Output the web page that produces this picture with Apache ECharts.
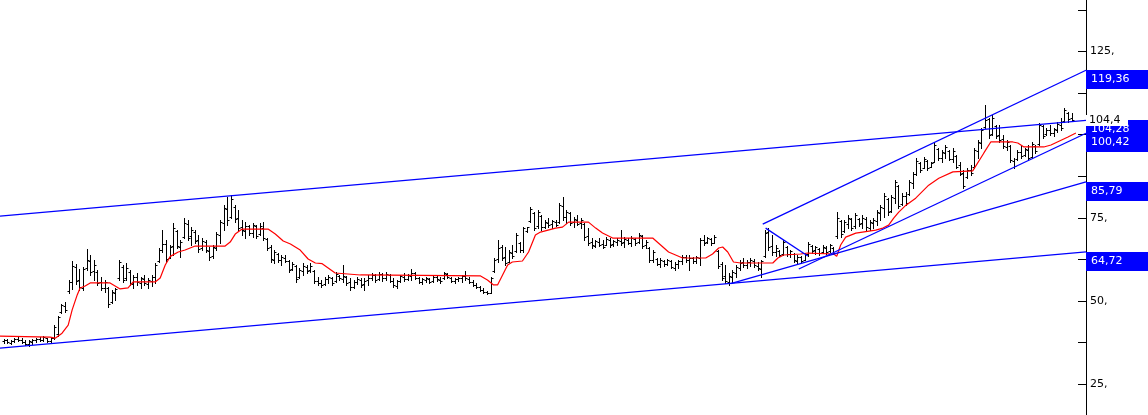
<!DOCTYPE html>
<html>
<head>
<meta charset="utf-8">
<script src="https://cdn.jsdelivr.net/npm/echarts@6/dist/echarts.min.js"></script>
<style>
html,body{margin:0;padding:0;background:#fff;}
#chart{width:1148px;height:415px;}
</style>
</head>
<body>
<div id="chart"></div>
<script>
// bar values, one per period (index = position on the x axis)
var opens = [
	37.8,38.1,37.4,37.9,38.5,38.3,37.5,36.9,37.7,38.2,
	38.6,38.3,38.8,37.9,38.8,40.1,46.8,48.5,52.9,55.6,
	60.2,56.4,54.0,59.9,62.0,58.9,58.6,55.6,53.9,53.8,
	49.7,52.4,57.0,60.3,56.8,58.7,55.2,57.3,55.4,56.6,
	55.0,56.0,57.1,62.0,65.3,67.2,63.0,66.5,71.0,66.2,
	69.3,73.2,69.5,70.8,68.3,65.8,67.6,65.0,63.4,66.0,
	69.8,73.4,77.5,75.3,78.2,74.8,72.3,71.0,72.4,70.5,
	72.5,70.0,72.0,68.6,66.2,62.4,64.1,62.4,63.0,62.0,
	59.6,60.4,57.2,59.0,60.2,59.2,59.0,56.1,55.3,55.0,
	56.5,56.9,55.9,57.6,56.5,57.1,55.6,54.3,55.6,56.3,
	55.0,56.2,56.8,57.7,56.5,58.0,57.0,57.9,56.1,54.5,
	56.0,57.3,56.7,57.6,58.3,56.8,55.7,56.3,56.7,56.0,
	57.3,56.4,56.9,58.1,57.0,56.0,56.6,56.8,57.5,56.7,
	55.6,54.9,54.2,53.4,52.7,52.5,59.0,62.5,66.2,63.1,
	61.8,64.5,65.0,67.4,65.4,71.0,74.0,76.4,72.4,75.4,
	72.2,73.5,73.0,73.7,73.6,78.5,75.3,76.4,73.6,74.4,
	73.4,73.0,69.6,67.8,66.6,67.7,67.1,66.9,68.3,67.0,
	67.6,68.0,67.6,68.4,67.3,68.6,67.6,69.4,66.8,65.8,
	62.3,62.6,61.0,62.0,61.1,62.0,60.0,61.1,61.9,63.1,
	62.4,62.9,62.1,63.0,68.2,67.6,68.6,67.5,65.0,61.2,
	57.5,55.8,57.3,58.5,60.0,61.6,60.7,61.7,62.1,60.6,
	59.7,63.6,70.7,66.5,64.7,65.0,64.1,66.2,64.1,64.2,
	62.0,63.1,62.4,64.1,66.6,65.2,65.7,64.6,66.0,65.0,
	66.0,69.5,74.0,71.0,73.2,74.6,72.5,74.6,73.3,74.5,
	72.0,73.3,74.0,76.5,77.8,80.5,77.0,80.8,84.5,79.0,
	81.5,82.2,85.6,88.2,91.4,90.1,92.0,90.4,91.9,95.7,
	93.0,94.6,95.1,92.7,93.6,90.8,88.5,87.2,89.3,90.3,
	95.0,97.5,102.4,104.6,100.3,102.6,99.8,98.6,96.3,96.5,
	92.1,92.6,94.7,93.9,95.4,93.4,96.6,97.3,102.5,100.2,
	101.3,100.5,101.4,103.0,104.2,106.4,104.9
];
var highs = [
	38.6,38.4,38.2,38.9,39.3,38.8,38.3,38.1,38.6,38.9,
	39.0,39.4,38.9,39.0,42.8,45.4,49.2,49.7,56.3,62.0,
	61.0,59.5,60.2,65.6,63.8,62.3,59.3,57.2,56.3,54.2,
	53.3,53.9,62.3,60.8,61.4,59.3,57.8,58.4,57.2,57.8,
	56.9,57.8,61.4,65.9,71.3,68.3,66.8,73.4,71.3,68.3,
	74.9,74.3,72.2,71.3,69.8,68.9,68.3,66.2,66.8,70.7,
	74.3,78.8,81.2,81.8,78.8,77.3,74.3,73.7,72.8,73.4,
	72.8,73.4,73.7,68.9,66.8,65.3,64.4,63.8,63.8,62.3,
	61.7,60.8,59.9,61.4,60.8,61.4,59.3,57.2,56.3,57.2,
	57.8,57.2,58.7,57.8,60.8,57.5,56.9,56.3,57.2,56.9,
	56.9,57.8,58.4,58.1,58.7,58.4,58.7,58.1,56.9,56.3,
	57.8,58.4,58.1,59.6,58.7,57.2,56.9,57.2,56.9,57.5,
	57.8,57.2,58.7,58.4,57.2,56.9,57.2,57.8,59.0,57.2,
	56.3,55.4,54.5,53.9,53.0,57.2,62.9,68.3,66.8,66.2,
	65.3,66.8,70.4,67.7,72.2,72.2,78.2,76.7,77.3,75.8,
	74.3,74.9,74.3,74.3,79.4,81.2,77.3,76.7,75.2,75.8,
	74.9,73.4,71.9,68.9,68.3,68.9,68.3,69.2,68.9,68.3,
	68.9,71.3,69.2,68.9,69.5,68.9,70.4,69.8,68.3,66.2,
	65.3,62.9,62.9,62.3,62.6,62.3,61.7,62.3,63.8,63.8,
	63.8,63.2,63.5,68.9,69.8,69.2,68.9,69.8,65.3,61.7,
	60.8,58.4,59.3,60.8,62.3,62.9,62.3,62.9,62.6,61.7,
	62.3,71.3,71.9,69.8,66.8,65.3,68.3,66.5,65.3,64.4,
	63.8,63.5,64.4,67.7,66.8,66.5,65.9,66.8,66.5,67.1,
	66.2,76.7,74.3,74.3,75.8,74.9,76.4,74.9,75.8,75.2,
	74.3,74.9,77.3,78.8,82.4,80.9,81.8,86.4,84.8,82.4,
	82.7,86.4,88.8,92.9,91.7,93.3,92.3,91.7,97.8,96.0,
	95.4,96.9,95.4,96.0,93.9,91.7,89.3,90.0,90.9,96.0,
	98.4,102.0,108.9,104.9,105.8,102.9,102.9,99.9,98.4,96.9,
	92.9,95.4,96.9,96.0,96.9,97.8,96.9,103.5,102.9,102.0,
	102.9,102.0,103.8,105.0,108.0,106.8,106.5
];
var lows = [
	37.4,37.2,36.9,37.6,37.9,37.3,36.6,36.5,37.0,37.6,
	37.8,37.9,37.5,37.3,38.4,39.5,46.4,46.7,52.5,53.5,
	55.0,53.3,53.3,59.3,57.8,56.3,54.8,53.3,52.7,48.2,
	49.4,50.3,56.3,55.7,56.3,54.8,53.9,54.8,53.9,54.8,
	53.9,54.5,55.4,61.7,64.7,61.7,62.9,63.8,65.9,63.2,
	68.9,68.3,66.8,67.4,64.7,65.3,64.7,62.3,62.9,65.3,
	67.4,71.3,72.8,74.9,73.7,71.3,69.8,68.9,69.8,69.2,
	68.9,69.8,68.3,65.3,61.7,61.4,61.7,60.8,61.7,58.7,
	59.3,55.7,56.9,57.8,58.4,58.7,55.4,54.8,54.2,54.8,
	55.4,54.8,55.7,56.3,55.7,54.8,53.3,53.9,55.1,54.2,
	53.3,54.8,56.3,55.7,56.3,56.0,56.3,55.7,54.2,53.9,
	55.7,56.0,56.3,56.3,56.6,55.4,55.1,55.7,55.4,55.7,
	56.0,55.4,56.6,56.9,55.7,55.4,56.0,55.7,56.3,55.4,
	54.5,53.9,53.0,52.4,52.1,52.4,58.7,61.7,62.3,60.8,
	61.7,62.9,64.7,64.7,64.7,70.7,73.7,71.3,71.9,71.3,
	71.9,72.2,71.9,72.5,73.4,74.3,73.4,72.8,72.2,72.8,
	71.9,68.3,66.8,65.9,66.2,66.5,65.9,66.8,66.2,66.5,
	66.8,66.8,66.2,67.1,66.5,66.8,67.4,65.9,65.9,61.7,
	61.7,60.8,60.2,60.5,60.8,59.9,59.3,59.9,61.1,61.7,
	59.3,61.4,61.4,60.8,66.8,67.4,66.8,67.4,59.9,56.3,
	55.4,54.8,55.7,57.2,59.3,60.2,59.9,60.5,60.2,59.3,
	57.2,63.2,65.3,63.8,63.5,63.5,63.8,63.5,63.2,61.7,
	61.4,61.4,62.3,63.5,64.4,64.1,63.8,64.4,64.1,64.7,
	64.1,68.9,69.2,70.7,71.9,71.3,71.9,72.5,71.9,71.3,
	71.3,71.9,72.8,74.3,75.2,75.8,76.7,79.4,77.9,78.8,
	78.8,81.8,84.0,87.8,88.8,89.9,89.3,90.2,91.7,92.3,
	91.7,93.0,92.3,91.7,89.9,87.8,83.9,86.9,87.8,89.9,
	93.0,96.0,102.0,99.0,99.9,99.0,97.8,96.0,95.4,91.7,
	89.9,92.4,93.0,93.6,92.4,93.0,94.5,96.9,98.9,99.9,
	99.9,99.6,100.8,101.4,103.8,103.8,104.4
];
var closes = [
	38.2,37.5,37.9,38.6,38.2,37.6,36.9,37.8,38.3,38.6,
	38.1,39.0,37.9,38.7,42.2,45.2,48.9,47.3,55.8,60.5,
	56.1,54.2,59.6,62.4,58.6,60.7,55.3,54.0,55.7,49.0,
	52.6,53.5,61.6,56.4,59.9,55.5,57.1,55.6,56.8,55.3,
	56.2,57.3,60.9,65.4,67.0,62.5,66.1,71.8,66.6,67.8,
	73.5,69.0,71.4,68.0,65.5,68.0,65.3,63.1,66.2,70.1,
	73.6,77.9,74.2,80.6,74.5,72.0,71.2,72.6,70.3,72.7,
	69.6,72.4,68.9,66.0,62.5,64.6,62.2,63.1,62.1,59.3,
	61.0,56.6,59.3,60.6,59.0,60.4,56.0,55.5,54.8,56.6,
	57.1,55.4,58.0,56.8,57.5,55.3,54.1,55.8,56.5,54.8,
	56.1,57.0,57.9,56.3,58.2,56.8,58.1,56.0,54.7,55.9,
	57.4,56.6,57.8,58.5,56.9,55.8,56.5,56.9,55.8,57.2,
	56.5,55.9,58.3,57.3,56.0,56.5,56.9,57.4,56.8,55.7,
	54.8,54.2,53.3,52.8,52.4,57.0,62.3,66.0,63.0,61.5,
	64.6,63.4,69.7,65.2,71.8,72.1,77.6,72.0,76.8,72.3,
	73.8,72.8,73.9,72.9,78.8,75.1,76.7,73.5,74.6,73.2,
	74.3,69.2,67.5,66.8,67.9,66.9,66.3,68.6,66.7,67.9,
	68.4,67.4,68.5,67.5,68.9,67.3,69.8,66.4,67.7,62.4,
	64.7,61.2,62.3,61.0,62.2,60.3,61.2,62.0,63.3,62.2,
	63.0,61.9,63.1,68.3,67.4,68.8,67.3,69.2,60.4,57.0,
	56.0,57.6,58.7,60.2,61.5,60.9,61.8,62.3,60.8,59.9,
	61.9,70.5,66.3,64.6,65.9,63.9,67.6,64.0,64.9,62.2,
	63.3,61.9,64.0,67.0,65.0,66.1,64.4,66.3,64.8,66.7,
	64.5,74.8,70.1,73.6,74.9,72.0,75.8,73.0,74.8,72.2,
	73.6,74.4,76.8,78.2,81.5,76.6,81.2,85.7,78.6,81.7,
	79.4,85.8,88.3,92.2,89.3,92.7,89.9,91.4,97.0,92.9,
	94.8,96.3,92.8,95.2,90.4,88.3,84.6,89.4,88.4,95.4,
	97.7,101.3,104.5,99.8,104.9,99.6,98.4,96.5,97.9,92.3,
	90.6,94.9,93.6,95.6,93.1,97.1,95.0,102.8,99.5,101.5,
	100.4,101.7,103.2,102.0,107.3,104.6,104.4
];

// red average line, [bar, value]
var avgLine = [
	[-1,39.4],[12.9,39.1],[14.3,38.8],[16.2,40.3],[17.9,42.7],[19.0,47.3],[20.4,51.8],[21.2,53.9],
	[22.6,54.5],[24.0,55.4],[29.5,55.4],[30.9,54.5],[32.3,53.6],[34.5,53.9],[35.9,55.7],[42.0,55.7],
	[43.4,56.9],[44.8,60.8],[46.2,63.4],[48.4,64.7],[50.3,65.3],[51.7,65.9],[53.1,66.5],[61.4,66.5],
	[62.8,67.7],[64.2,70.1],[66.1,71.6],[73.3,71.6],[75.3,70.1],[77.5,68.0],[79.5,67.1],[82.2,65.3],
	[84.4,62.6],[86.4,61.4],[88.3,61.2],[91.9,58.4],[98.9,57.8],[132.2,57.5],[134.1,56.3],[135.8,54.8],
	[136.9,54.8],[138.3,57.8],[139.7,60.8],[141.0,61.7],[143.8,62.0],[145.5,64.7],[147.4,69.8],[148.8,70.7],
	[153.0,71.9],[154.9,72.2],[156.6,73.7],[162.1,73.7],[164.1,71.9],[166.0,70.4],[168.8,68.9],[179.9,68.9],
	[182.1,66.8],[184.3,64.7],[188.2,62.9],[194.6,62.9],[196.5,64.1],[198.2,65.9],[199.3,66.2],[200.7,64.7],
	[202.3,61.7],[204.3,61.4],[213.2,61.4],[214.6,62.9],[216.2,63.8],[220.9,64.1],[222.9,64.4],[230.1,64.1],
	[230.9,63.4],[232.0,66.8],[233.4,69.2],[236.2,70.4],[241.7,71.3],[243.7,71.9],[245.3,72.8],[246.7,74.9],
	[248.1,76.7],[250.1,78.8],[252.8,80.9],[256.4,84.8],[259.2,86.9],[263.1,88.8],[268.6,89.1],[271.7,94.5],
	[273.6,97.8],[279.7,97.8],[281.1,97.5],[282.8,96.3],[288.3,96.3],[290.3,96.9],[295.0,99.3],[297.2,100.5]
];

// blue trend lines: start and end as [bar, value]
var trendLines = [
	[[-1, 75.5], [300, 104.28]],
	[[-1, 35.8], [300, 64.72]],
	[[201.5, 55.2], [300, 85.79]],
	[[220.4, 59.6], [300, 100.42]],
	[[210.4, 73.1], [300, 119.36]],
	[[211.2, 71.9], [222.9, 63.5]]
];
// which trend lines get a value box on the axis (drawn in this order)
var boxedLines = [4, 0, 3, 2, 1];

function fmt(v, d) {
	return (d ? v.toFixed(d) : String(v)).replace('.', ',');
}

var ohlc = [];
for (var i = 0; i < highs.length; i++) {
	ohlc.push([i, opens[i], highs[i], lows[i], closes[i]]);
}
var lastPrice = closes[closes.length - 1];

function renderBar(params, api) {
	var idx = api.value(0);
	var x = Math.round(api.coord([idx, 0])[0]) + 0.5;
	var yo = Math.round(api.coord([idx, api.value(1)])[1]) + 0.5;
	var yh = Math.round(api.coord([idx, api.value(2)])[1]);
	var yl = Math.round(api.coord([idx, api.value(3)])[1]) + 1;
	var yc = Math.round(api.coord([idx, api.value(4)])[1]) + 0.5;
	var st = {stroke: '#000', lineWidth: 1};
	return {
		type: 'group',
		children: [
			{type: 'line', shape: {x1: x, y1: yh, x2: x, y2: yl}, style: st},
			{type: 'line', shape: {x1: x - 2, y1: yo, x2: x, y2: yo}, style: st},
			{type: 'line', shape: {x1: x, y1: yc, x2: x + 2, y2: yc}, style: st}
		]
	};
}

var series = [{
	type: 'custom',
	renderItem: renderBar,
	data: ohlc,
	encode: {x: 0, y: [1, 2, 3, 4]},
	silent: true,
	z: 2
}, {
	type: 'line',
	data: avgLine,
	showSymbol: false,
	symbol: 'none',
	lineStyle: {color: '#ff0000', width: 1.2},
	silent: true,
	z: 3
}];
trendLines.forEach(function (t) {
	series.push({
		type: 'line',
		data: t,
		symbol: 'none',
		lineStyle: {color: '#0000ff', width: 1.3},
		silent: true,
		z: 4
	});
});

var chart = echarts.init(document.getElementById('chart'));
chart.setOption({
	animation: false,
	backgroundColor: '#fff',
	grid: {left: 0, right: 62, top: -31.6, bottom: -10.6, containLabel: false, outerBoundsMode: 'none'},
	xAxis: {type: 'value', min: -1, max: 300, show: false},
	yAxis: {
		type: 'value',
		position: 'right',
		min: 12.5,
		max: 150,
		interval: 12.5,
		splitLine: {show: false},
		axisLine: {show: true, onZero: false, lineStyle: {color: '#000', width: 1}},
		axisTick: {show: true, inside: true, length: 8, lineStyle: {color: '#000'}},
		axisLabel: {
			color: '#000',
			fontFamily: 'DejaVu Sans',
			fontSize: 11,
			margin: 4,
			formatter: function (v) { return v % 25 === 0 ? v + ',' : ''; }
		}
	},
	series: series
});

// value boxes on the right axis
var gfx = [];
var axisX = 1086;
boxedLines.forEach(function (k) {
	var v = trendLines[k][1][1];
	var y = chart.convertToPixel({yAxisIndex: 0}, v);
	gfx.push({
		type: 'rect', z: 10,
		shape: {x: axisX, y: Math.round(y), width: 1148 - axisX, height: 19},
		style: {fill: '#0000ff'}
	});
	gfx.push({
		type: 'text', z: 11,
		x: axisX + 5, y: Math.round(y) + 9.5,
		style: {text: fmt(v, 2), fill: '#fff', font: '11px "DejaVu Sans"', verticalAlign: 'middle', textVerticalAlign: 'middle'}
	});
});
var yl = chart.convertToPixel({yAxisIndex: 0}, lastPrice);
gfx.push({
	type: 'rect', z: 12,
	shape: {x: axisX, y: Math.round(yl) - 5, width: 42, height: 11},
	style: {fill: '#fff'}
});
gfx.push({
	type: 'text', z: 13,
	x: axisX + 3, y: Math.round(yl) + 0.5,
	style: {text: fmt(lastPrice), fill: '#000', font: '11px "DejaVu Sans"', verticalAlign: 'middle', textVerticalAlign: 'middle'}
});
chart.setOption({graphic: gfx});
</script>
</body>
</html>
